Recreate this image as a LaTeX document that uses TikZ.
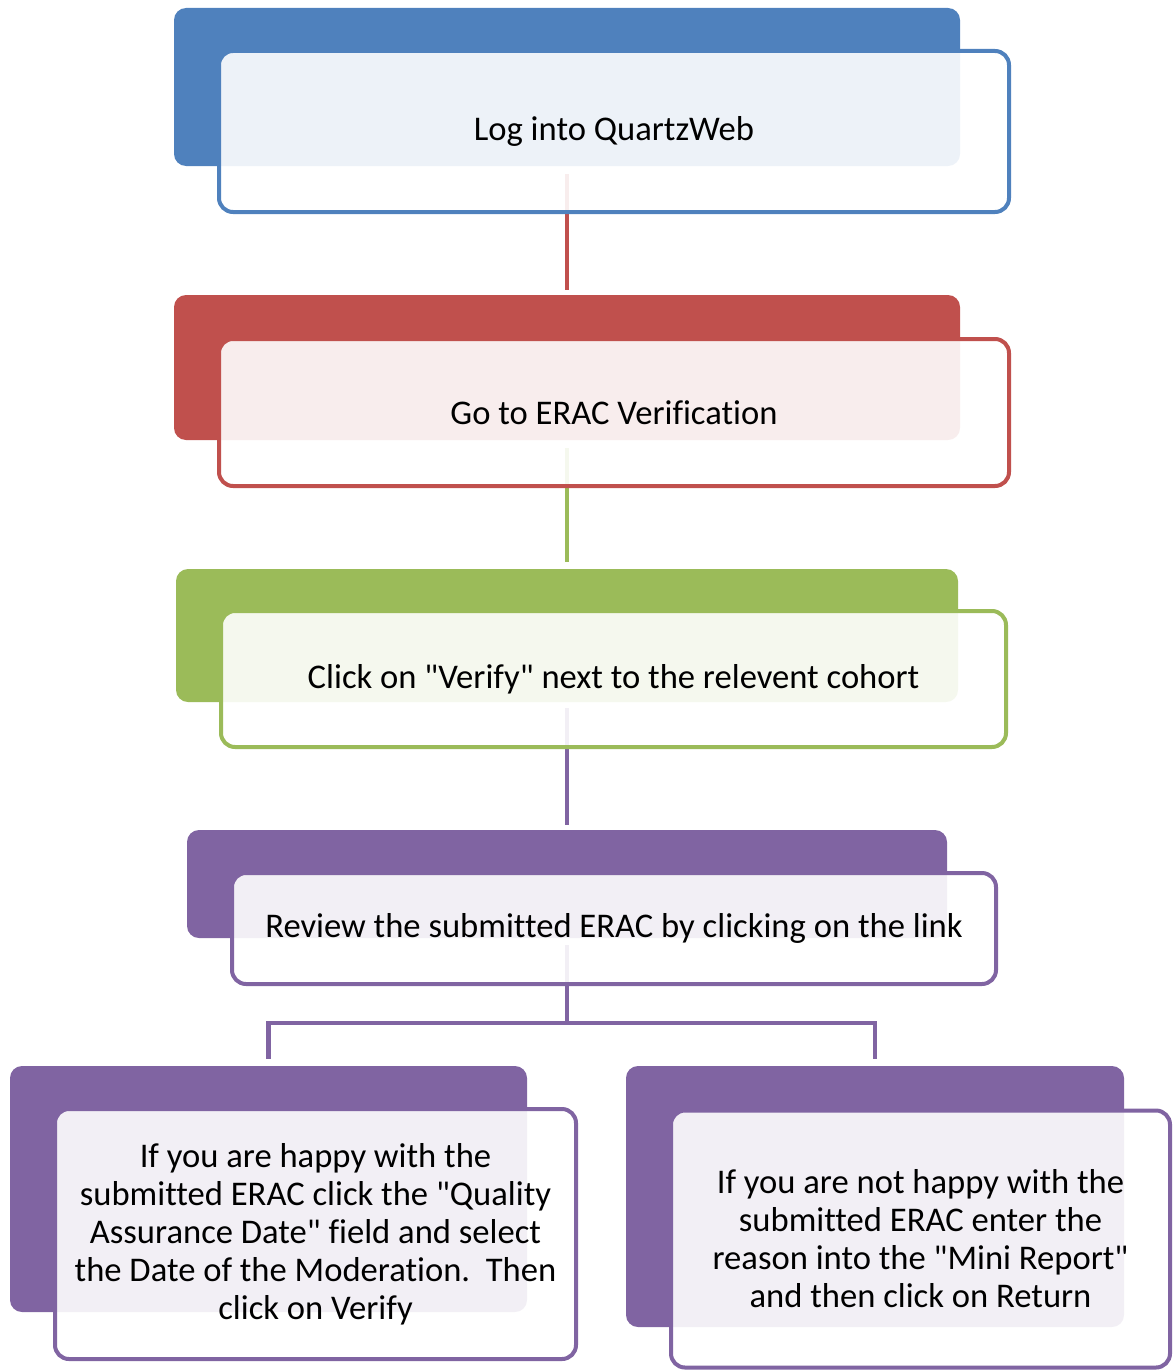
\documentclass[tikz,border=0pt]{standalone}
\usepackage{fontspec}
\setmainfont{Carlito}[Ligatures={NoCommon,TeXOff}]
\newcommand{\dq}{\symbol{34}}
\definecolor{cblue}{HTML}{4F81BD}
\definecolor{cred}{HTML}{C0504D}
\definecolor{cgreen}{HTML}{9BBB59}
\definecolor{cpurple}{HTML}{8064A2}
\begin{document}
\begin{tikzpicture}[x=0.5pt,y=-0.5pt,
  backbox/.style={rectangle, rounded corners=6pt, fill=#1, draw=none, inner sep=0pt},
  frontbox/.style={rectangle, rounded corners=7pt, draw=#1, line width=2pt, fill=white, fill opacity=0.9, draw opacity=1, text opacity=1, inner sep=0pt, align=center, font=\fontsize{17.3pt}{19pt}\selectfont},
  link/.style={draw=#1, line width=2.2pt}
]
\useasboundingbox (0,0) rectangle (1174,1370);
% back boxes
\node[backbox=cblue, minimum width=393pt, minimum height=79pt] (back1) at (567,87) {};
\node[backbox=cred, minimum width=393pt, minimum height=72.5pt] (back2) at (567,367.5) {};
\node[backbox=cgreen, minimum width=391pt, minimum height=66.5pt] (back3) at (567,635.5) {};
\node[backbox=cpurple, minimum width=380pt, minimum height=54pt] (back4) at (567,884) {};
\node[backbox=cpurple, minimum width=258.5pt, minimum height=123pt] (back5) at (268.5,1189) {};
\node[backbox=cpurple, minimum width=249pt, minimum height=130.5pt] (back6) at (875,1196.5) {};
% connectors
\draw[link=cred, shorten <=4pt, shorten >=2.5pt] (back1.south) -- (back2.north);
\draw[link=cgreen, shorten <=4pt, shorten >=3.5pt] (back2.south) -- (back3.north);
\draw[link=cpurple, shorten <=3pt, shorten >=2.5pt] (back3.south) -- (back4.north);
\coordinate (split) at (567,1023);
\draw[link=cpurple, shorten <=3.5pt] (back4.south) -- (split);
\draw[link=cpurple, shorten >=3.5pt] (split) -| (back5.north);
\draw[link=cpurple, shorten >=3.5pt] (split) -| (back6.north);
% front boxes
\node[frontbox=cblue, minimum width=395pt, minimum height=80.5pt] (front1) at (614,131.5) {Log into QuartzWeb};
\node[frontbox=cred, minimum width=395pt, minimum height=73.5pt] (front2) at (614,412.5) {Go to ERAC Verification};
\node[frontbox=cgreen, minimum width=392.5pt, minimum height=68pt] (front3) at (613.5,679) {Click on \dq Verify\dq\ next to the relevent cohort};
\node[frontbox=cpurple, minimum width=382pt, minimum height=55.5pt] (front4) at (614,928.5) {Review the submitted ERAC by clicking on the link};
\node[frontbox=cpurple, minimum width=260.5pt, minimum height=125pt] (front5) at (315.5,1234) {If you are happy with the\\submitted ERAC click the \dq Quality\\Assurance Date\dq\ field and select\\the Date of the Moderation.\ \ Then\\click on Verify};
\node[frontbox=cpurple, minimum width=249.5pt, minimum height=128.5pt] (front6) at (920.5,1239) {If you are not happy with the\\submitted ERAC enter the\\reason into the \dq Mini Report\dq\\and then click on Return};
\end{tikzpicture}
\end{document}
